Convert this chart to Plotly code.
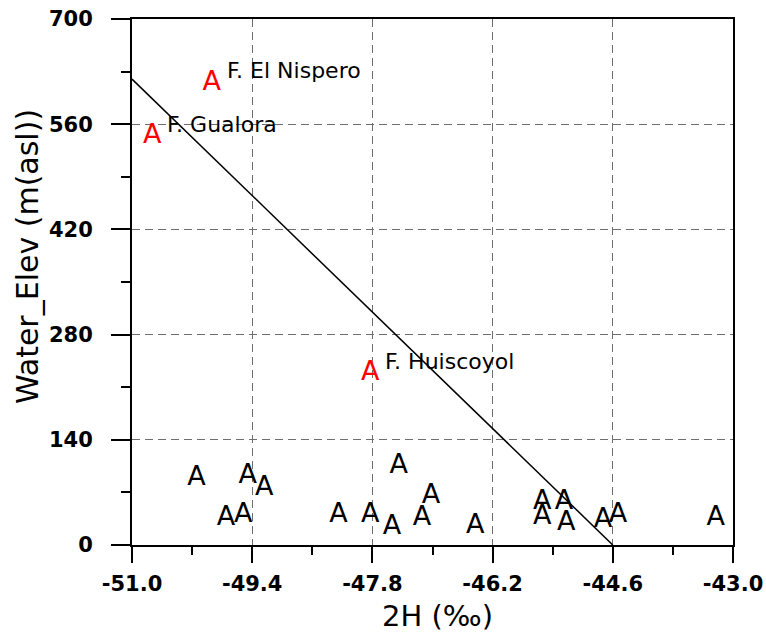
import plotly.graph_objects as go

# Data
h2_black = [-50.14, -49.46, -49.24, -49.75, -49.52, -47.45, -47.02, -48.25, -47.83,
            -47.54, -47.14, -46.43, -45.54, -45.25, -45.54, -45.22, -44.73, -44.53, -43.23]
elev_black = [89, 92, 76, 36, 39, 105, 65, 39, 39, 23, 36, 25, 57, 57, 37, 29, 33, 40, 36]

h2_red = [-49.94, -50.73, -47.83]
elev_red = [615, 544, 228]
red_labels = ["F. El Nispero", "F. Gualora", "F. Huiscoyol"]

fit_x = [-51.0, -44.6]
fit_y = [620, 0]

x_tickvals = [-51.0, -49.4, -47.8, -46.2, -44.6, -43.0]
x_ticktext = ["-51.0", "-49.4", "-47.8", "-46.2", "-44.6", "-43.0"]
y_tickvals = [0, 140, 280, 420, 560, 700]
y_ticktext = ["0", "140", "280", "420", "560", "700"]

FONT = "DejaVu Sans"

fig = go.Figure()

fig.add_trace(go.Scatter(
    x=fit_x, y=fit_y, mode="lines",
    line=dict(color="black", width=1.5),
    showlegend=False, hoverinfo="skip"))

fig.add_trace(go.Scatter(
    x=h2_black, y=elev_black, mode="text", text=["A"] * len(h2_black),
    textposition="middle center",
    textfont=dict(family=FONT, size=27, color="black"),
    showlegend=False, cliponaxis=False))

fig.add_trace(go.Scatter(
    x=h2_red, y=elev_red, mode="text", text=["A"] * len(h2_red),
    textposition="middle center",
    textfont=dict(family=FONT, size=27, color="#ff0000"),
    showlegend=False, cliponaxis=False))

annotations = []
for xv, yv, lab in zip(h2_red, elev_red, red_labels):
    annotations.append(dict(
        x=xv, y=yv, xref="x", yref="y", text=lab, showarrow=False,
        xanchor="left", yanchor="middle", xshift=13, yshift=12,
        font=dict(family=FONT, size=22, color="black")))

# axis titles
annotations.append(dict(
    x=0.508, y=0, xref="paper", yref="paper", text="2H (‰)", showarrow=False,
    xanchor="center", yanchor="middle", yshift=-71,
    font=dict(family=FONT, size=29, color="black")))
annotations.append(dict(
    x=0, y=(545 - 257) / 526, xref="paper", yref="paper", text="Water_Elev (m(asl))",
    showarrow=False, textangle=-90, xanchor="center", yanchor="middle", xshift=-105,
    font=dict(family=FONT, size=30, color="black")))

fig.update_layout(
    width=766, height=633,
    margin=dict(l=132, r=33, t=19, b=88, autoexpand=False),
    paper_bgcolor="white", plot_bgcolor="white",
    annotations=annotations,
)

fig.update_xaxes(
    range=[-51.0, -43.0], tickmode="array", tickvals=x_tickvals, ticktext=x_ticktext,
    ticks="outside", ticklen=16, tickwidth=2, tickcolor="black",
    showline=True, linecolor="black", linewidth=2, mirror=True,
    showgrid=True, gridcolor="#6e6e6e", gridwidth=1, griddash="8px,5px",
    zeroline=False, ticklabelstandoff=3, automargin=False,
    tickfont=dict(family=FONT, size=21, color="black", weight="bold"),
    minor=dict(tickmode="array", tickvals=[-50.2, -48.6, -47.0, -45.4, -43.8],
               ticks="outside", ticklen=8, tickwidth=2, tickcolor="black", showgrid=False),
)
fig.update_yaxes(
    range=[0, 700], tickmode="array", tickvals=y_tickvals, ticktext=y_ticktext,
    ticks="outside", ticklen=19, tickwidth=2, tickcolor="black",
    showline=True, linecolor="black", linewidth=2, mirror=True,
    showgrid=True, gridcolor="#6e6e6e", gridwidth=1, griddash="8px,5px",
    zeroline=False, ticklabelstandoff=14, automargin=False,
    tickfont=dict(family=FONT, size=21, color="black", weight="bold"),
    minor=dict(tickmode="array", tickvals=[70, 210, 350, 490, 630],
               ticks="outside", ticklen=9, tickwidth=2, tickcolor="black", showgrid=False),
)

fig.write_html("out.html", config={"displayModeBar": False},
               post_script="document.body.style.margin='0';")
